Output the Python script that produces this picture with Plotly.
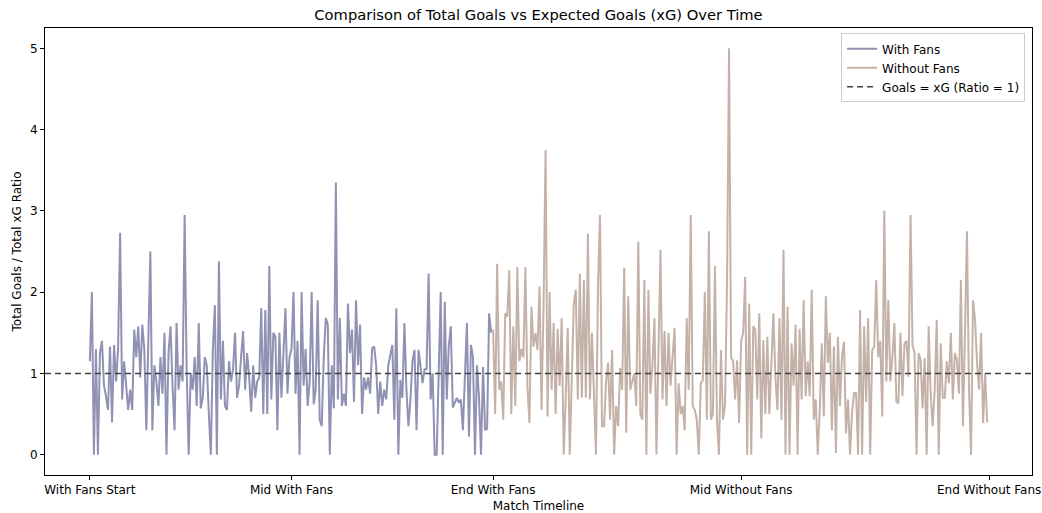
import plotly.graph_objects as go

with_fans = [
    1.15, 2.0, 0.0, 1.3, 0.0, 1.25, 1.4, 0.85, 0.72, 0.55, 1.33, 0.4, 1.35, 0.9, 1.3, 2.73, 0.68, 1.15, 0.85, 0.55,
    0.8, 0.55, 1.54, 1.2, 1.58, 0.95, 1.6, 1.3, 0.3, 1.4, 2.5, 0.3, 1.1, 0.9, 0.6, 1.2, 0.75, 1.5,
    0.0, 1.25, 1.58, 0.85, 0.3, 1.62, 0.8, 1.1, 0.9, 2.95, 1.05, 0.0, 1.0, 0.8, 1.2, 0.6, 1.62, 0.57, 0.7, 1.2,
    1.1, 0.5, 0.0, 1.3, 1.84, 0.0, 2.38, 0.68, 1.4, 0.6, 0.55, 1.15, 0.9, 1.05, 1.5, 0.7, 0.85, 1.2,
    1.52, 0.8, 1.25, 0.95, 0.53, 1.1, 0.7, 0.9, 0.95, 1.8, 0.5, 1.78, 0.5, 2.32, 0.68, 1.5, 1.45, 0.3, 1.5, 0.7,
    1.35, 1.8, 0.75, 1.2, 1.3, 2.0, 0.75, 1.4, 0.0, 2.0, 0.85, 1.3, 0.6, 0.9, 2.0, 0.62, 0.8, 1.9,
    0.43, 0.35, 1.2, 1.68, 1.6, 0.0, 1.1, 0.57, 3.35, 0.68, 1.68, 0.6, 0.75, 0.6, 1.86, 1.25, 1.54, 0.65, 1.9, 1.1,
    1.6, 0.5, 0.95, 0.8, 0.95, 0.75, 1.31, 1.33, 1.1, 0.5, 0.9, 0.6, 0.8,
    0.68, 1.1, 1.25, 1.35, 0.43, 1.8, 0.0, 0.92, 0.7, 1.62, 0.8, 0.35, 0.68, 1.15, 1.29, 0.3, 1.29, 1.1, 0.88, 1.05,
    1.05, 2.23, 0.68, 1.0, 0.0, 0.0, 0.9, 2.0, 0.0, 1.88, 0.68, 1.33, 1.58, 0.58,
    0.64, 0.7, 0.64, 0.68, 0.3, 1.05, 1.62, 0.22, 1.35, 1.2, 0.0, 1.1, 0.7, 0.0, 1.08, 0.3, 0.32, 1.74, 1.5,
]

without_fans = [
    1.54, 0.5, 2.35, 0.8, 0.9, 0.43, 1.74, 1.7, 2.27, 0.5, 1.58, 0.6, 2.31, 1.15, 1.3, 1.2, 2.31, 0.85, 0.39, 1.82,
    1.33, 1.5, 1.29,
    2.07, 0.55, 1.82, 3.75, 0.47, 2.0, 0.8, 1.62, 0.5, 1.55, 0.85, 1.68, 0.0, 0.7, 1.56, 0.0, 0.8, 1.86, 2.03, 0.68,
    2.23, 0.7, 2.15, 0.7, 2.72, 0.68, 1.5, 0.75, 0.0, 2.07, 2.95, 0.35, 0.35, 0.9, 1.13, 0.43,
    1.29, 0.0, 0.6, 0.35, 1.07, 0.8, 2.3, 0.27, 1.95, 0.8, 0.9, 1.0, 0.6, 2.62, 0.5, 0.43, 2.15, 0.0, 2.03, 0.75,
    1.1, 1.68, 0.0, 1.1, 2.52, 0.68, 1.52, 0.6, 1.5, 0.85, 1.2, 1.56, 0.0, 0.88, 0.5, 0.6, 0.3, 1.68,
    0.8, 2.95, 0.6, 0.55, 0.43, 0.0, 0.88, 0.92, 2.0, 0.43, 2.75, 0.43, 0.5, 2.32, 0.43, 0.0, 1.29, 0.43, 0.6, 2.11,
    5.0, 1.2, 1.15, 0.68, 1.16, 0.39, 1.4, 1.5, 2.19, 0.0, 1.86, 0.0, 1.58, 1.54, 0.68, 1.74,
    0.2, 1.41, 0.5, 1.45, 0.5, 1.2, 1.74, 0.95, 0.55, 1.68, 0.43, 2.52, 0.0, 1.82, 0.0, 1.37, 0.85, 1.6, 0.0, 1.55,
    0.68, 1.9, 0.72, 1.15, 0.72, 2.03, 0.43, 0.68, 0.0, 0.55, 1.37, 0.47, 1.95, 1.13, 1.5, 0.3, 1.33,
    0.02, 1.45, 0.6, 1.2, 1.39, 0.26, 0.68, 0.0, 0.52, 0.76, 0.76, 0.0, 1.78, 0.0, 1.58, 0.65, 1.68, 0.0, 1.29, 1.33,
    2.15, 1.2, 1.4, 0.47, 3.0, 0.9, 1.9, 0.9, 1.2, 1.62, 0.65, 0.63, 1.5, 0.72, 1.37, 1.4, 0.96, 2.95,
    1.35, 1.25, 0.0, 1.25, 1.17, 0.57, 1.19, 0.0, 1.58, 0.75, 0.35, 0.8, 1.66, 0.0, 1.37, 0.7, 0.7, 1.15, 0.88, 1.5,
    0.68, 1.25, 1.17, 0.75, 2.15, 0.35, 1.5, 2.75, 0.8, 0.0, 1.9, 1.66, 1.13, 0.8, 1.5, 0.39, 1.0, 0.4,
]

tick_labels = ["With Fans Start", "Mid With Fans", "End With Fans", "Mid Without Fans", "End Without Fans"]

n1 = len(with_fans)
n2 = len(without_fans)
x_with = list(range(n1))
x_without = list(range(n1, n1 + n2))
tick_vals = [0, n1 / 2, n1, n1 + n2 / 2, n1 + n2]

FONT = "DejaVu Sans"
fig = go.Figure()
fig.add_trace(go.Scatter(x=x_with, y=with_fans, mode="lines", name="With Fans",
                         line=dict(color="rgb(145,145,180)", width=2)))
fig.add_trace(go.Scatter(x=x_without, y=without_fans, mode="lines", name="Without Fans",
                         line=dict(color="rgb(196,178,168)", width=2)))
span = n1 + n2 - 1
fig.add_trace(go.Scatter(x=[-0.05 * span, 1.05 * span], y=[1, 1], mode="lines",
                         name="Goals = xG (Ratio = 1)",
                         line=dict(color="#404040", width=1.5, dash="6px,4px")))

fig.update_layout(
    width=1042, height=513,
    margin=dict(l=45, r=10, t=28, b=38, autoexpand=False),
    plot_bgcolor="white", paper_bgcolor="white",
    font=dict(family=FONT, size=12, color="black"),
    title=dict(text="Comparison of Total Goals vs Expected Goals (xG) Over Time",
               x=(45 + 1032) / 2 / 1042, xanchor="center", y=1 - 15 / 513, yanchor="middle",
               font=dict(size=14.7)),
    legend=dict(x=0.993, y=0.988, xanchor="right", yanchor="top",
                bordercolor="#cccccc", borderwidth=1, bgcolor="rgba(255,255,255,0.8)",
                font=dict(size=12), tracegroupgap=0, itemwidth=30),
    showlegend=True,
)
fig.update_xaxes(range=[-0.05 * span, 1.05 * span], tickvals=tick_vals, ticktext=tick_labels,
                 showgrid=False, zeroline=False, showline=True, linecolor="black", linewidth=1,
                 mirror=True, ticks="outside", ticklen=4, tickcolor="black", automargin=False,
                 title=dict(text="Match Timeline", standoff=6, font=dict(size=12)))
fig.update_yaxes(range=[-0.25, 5.25], dtick=1, tick0=0,
                 showgrid=False, zeroline=False, showline=True, linecolor="black", linewidth=1,
                 mirror=True, ticks="outside", ticklen=4, tickcolor="black", automargin=False,
                 title=dict(text="Total Goals / Total xG Ratio", standoff=5, font=dict(size=12)))

fig.write_html("out.html", config={"displayModeBar": False},
               post_script="document.body.style.margin='0';")
